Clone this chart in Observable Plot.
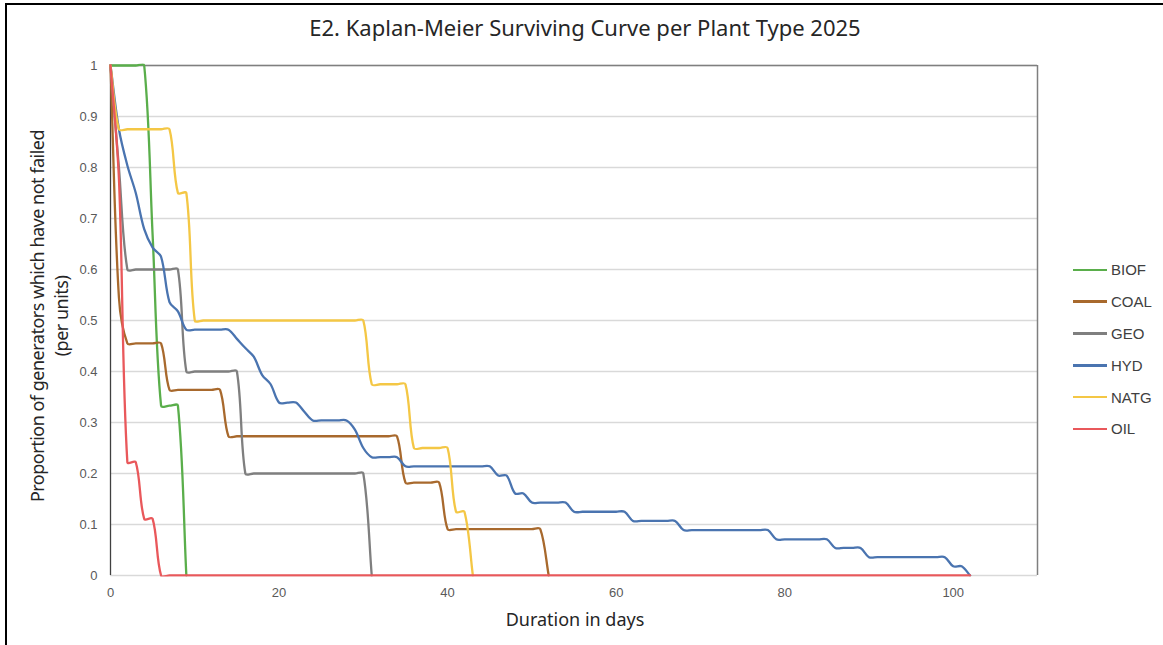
<!DOCTYPE html>
<html>
<head>
<meta charset="utf-8">
<script src="https://cdn.jsdelivr.net/npm/d3@7"></script>
<script src="https://cdn.jsdelivr.net/npm/@observablehq/plot@0.6"></script>
<style>
  body { margin: 0; background: #fff; }
  #wrap { position: relative; width: 1163px; height: 645px; overflow: hidden; background: #fff; }
  #frame { position: absolute; left: 5px; top: 3px; width: 1200px; height: 700px; border: 2px solid #000; box-sizing: border-box; pointer-events: none; }
  #chart { position: absolute; left: 0; top: 0; }
  #title { position: absolute; left: 0; top: 12px; width: 1170px; text-align: center; font: 22px "Noto Sans", sans-serif; color: #262626; white-space: nowrap; }
  #xtitle { position: absolute; left: 375px; width: 400px; top: 607px; text-align: center; font: 18px "Noto Sans", sans-serif; color: #262626; }
  #ytitle { position: absolute; left: -201px; top: 292px; width: 500px; height: 48px; line-height: 24px; text-align: center; font: 18px "Noto Sans", sans-serif; letter-spacing: -0.5px; color: #262626; transform: rotate(-90deg); transform-origin: 250px 24px; white-space: nowrap; }
  #legend { position: absolute; left: 1073px; top: 254px; font: 15px "Liberation Sans", Arial, sans-serif; color: #404040; }
  .item { display: flex; align-items: center; height: 31.8px; }
  .sw { width: 34px; height: 2.5px; margin-right: 4px; }
</style>
</head>
<body>
<div id="wrap">
  <div id="chart"></div>
  <div id="title">E2. Kaplan-Meier Surviving Curve per Plant Type 2025</div>
  <div id="xtitle">Duration in days</div>
  <div id="ytitle">Proportion of generators which have not failed<br>(per units)</div>
  <div id="legend"></div>
  <div id="frame"></div>
</div>
<script>
// Plant types and colours
const types = ["BIOF", "COAL", "GEO", "HYD", "NATG", "OIL"];
const colors = ["#5aae4b", "#a8692d", "#7f7f7f", "#4a74b0", "#f4c745", "#e9585b"];

// Survival values (day, proportion)
const biofDays = [0, 1, 3, 4, 5, 6, 7, 8, 9];
const biofSurv = [1, 1, 1, 1, 0.667, 0.333, 0.333, 0.333, 0];

const coalDays = [0, 1, 2, 3, 5, 6, 7, 8, 12, 13, 14, 15, 33, 34, 35, 36, 38, 39, 40, 41, 50, 51, 52];
const coalSurv = [1, 0.545, 0.455, 0.455, 0.455, 0.455, 0.364, 0.364, 0.364, 0.364, 0.273, 0.273, 0.273, 0.273, 0.182, 0.182, 0.182, 0.182, 0.091, 0.091, 0.091, 0.091, 0];

const geoDays = [0, 1, 2, 3, 7, 8, 9, 10, 14, 15, 16, 17, 29, 30, 31];
const geoSurv = [1, 0.8, 0.6, 0.6, 0.6, 0.6, 0.4, 0.4, 0.4, 0.4, 0.2, 0.2, 0.2, 0.2, 0];

const hydDays = [0, 1, 2, 3, 4, 5, 6, 7, 8, 9, 10, 13, 14, 15, 16, 17, 18, 19, 20, 21, 22, 23, 24, 25, 27, 28,
  29, 30, 31, 32, 33, 34, 35, 36, 44, 45, 46, 47, 48, 49, 50, 51, 53, 54, 55, 56, 60, 61, 62, 63, 66, 67, 68, 69,
  77, 78, 79, 80, 84, 85, 86, 87, 88, 89, 90, 91, 98, 99, 100, 101, 102];
const hydSurv = [1, 0.875, 0.804, 0.75, 0.679, 0.643, 0.625, 0.536, 0.518, 0.482, 0.482, 0.482, 0.482, 0.464, 0.446,
  0.429, 0.393, 0.375, 0.339, 0.339, 0.339, 0.321, 0.304, 0.304, 0.304, 0.304,
  0.286, 0.25, 0.232, 0.232, 0.232, 0.232, 0.214, 0.214, 0.214, 0.214, 0.196, 0.196, 0.161, 0.161, 0.143, 0.143,
  0.143, 0.143, 0.125, 0.125, 0.125, 0.125, 0.107, 0.107, 0.107, 0.107, 0.089, 0.089,
  0.089, 0.089, 0.071, 0.071, 0.071, 0.071, 0.054, 0.054, 0.054, 0.054, 0.036, 0.036, 0.036, 0.036, 0.018, 0.018, 0];

const natgDays = [0, 1, 2, 6, 7, 8, 9, 10, 11, 29, 30, 31, 32, 34, 35, 36, 37, 39, 40, 41, 42, 43];
const natgSurv = [1, 0.875, 0.875, 0.875, 0.875, 0.75, 0.75, 0.5, 0.5, 0.5, 0.5, 0.375, 0.375, 0.375, 0.375, 0.25, 0.25, 0.25, 0.25, 0.125, 0.125, 0];

const oilDays = [0, 1, 2, 3, 4, 5, 6, 7, 8, 101, 102];
const oilSurv = [1, 0.778, 0.222, 0.222, 0.111, 0.111, 0, 0, 0, 0, 0];

// Axis ticks
const xTicks = [0, 20, 40, 60, 80, 100];
const yTicks = [0, 0.1, 0.2, 0.3, 0.4, 0.5, 0.6, 0.7, 0.8, 0.9, 1];
const yTickLabels = ["0", "0.1", "0.2", "0.3", "0.4", "0.5", "0.6", "0.7", "0.8", "0.9", "1"];

const seriesDays = [biofDays, coalDays, geoDays, hydDays, natgDays, oilDays];
const seriesSurv = [biofSurv, coalSurv, geoSurv, hydSurv, natgSurv, oilSurv];
const rows = types.flatMap((t, i) => seriesDays[i].map((d, j) => ({type: t, day: d, surv: seriesSurv[i][j]})));

// Spreadsheet-style smoothed line: cubic Bezier with chord-length-scaled Catmull-Rom control points
function SmoothCurve(context) { this._context = context; }
SmoothCurve.prototype = {
  areaStart() { this._line = 0; },
  areaEnd() { this._line = NaN; },
  lineStart() { this._xs = []; this._ys = []; },
  point(x, y) { this._xs.push(+x); this._ys.push(+y); },
  lineEnd() {
    const X = this._xs, Y = this._ys, n = X.length, c = this._context;
    if (!n) return;
    c.moveTo(X[0], Y[0]);
    if (n === 2) { c.lineTo(X[1], Y[1]); return; }
    for (let i = 0; i < n - 1; i++) {
      const a = Math.max(i - 1, 0), b = Math.min(i + 2, n - 1);
      const d01 = Math.hypot(X[i] - X[a], Y[i] - Y[a]);
      const d12 = Math.hypot(X[i + 1] - X[i], Y[i + 1] - Y[i]);
      const d23 = Math.hypot(X[b] - X[i + 1], Y[b] - Y[i + 1]);
      const k1 = d01 + d12 > 0 ? d12 / (3 * (d01 + d12)) : 0;
      const k2 = d12 + d23 > 0 ? d12 / (3 * (d12 + d23)) : 0;
      c.bezierCurveTo(
        X[i] + k1 * (X[i + 1] - X[a]), Y[i] + k1 * (Y[i + 1] - Y[a]),
        X[i + 1] - k2 * (X[b] - X[i]), Y[i + 1] - k2 * (Y[b] - Y[i]),
        X[i + 1], Y[i + 1]);
    }
  }
};
const smooth = (context) => new SmoothCurve(context);

const chart = Plot.plot({
  width: 1163,
  height: 645,
  marginLeft: 110,
  marginRight: 126,
  marginTop: 65,
  marginBottom: 70,
  style: {fontFamily: "'Liberation Sans', Arial, sans-serif", fontSize: "13px", color: "#595959", background: "transparent", overflow: "visible"},
  x: {domain: [0, 110], ticks: xTicks, tickSize: 0, tickPadding: 12, label: null},
  y: {domain: [0, 1], ticks: yTicks, tickSize: 0, tickPadding: 13, label: null,
      tickFormat: (d) => yTickLabels[yTicks.indexOf(d)]},
  color: {domain: types, range: colors},
  marks: [
    Plot.ruleY(yTicks, {stroke: "#d9d9d9", strokeWidth: 1.3}),
    Plot.ruleY([1], {stroke: "#7f7f7f", strokeWidth: 1.5}),
    Plot.ruleX([110], {stroke: "#7f7f7f", strokeWidth: 1.5}),
    Plot.ruleX([0], {stroke: "#404040", strokeWidth: 1.3}),
    Plot.line(rows, {x: "day", y: "surv", z: "type", stroke: "type", curve: smooth,
      strokeWidth: 2.3, strokeLinejoin: "round", clip: true})
  ]
});
// enlarge the clip rectangle slightly so the strokes on the frame edges are not cut in half
chart.querySelectorAll("clipPath rect").forEach((r) => {
  const x = +r.getAttribute("x"), y = +r.getAttribute("y");
  const w = +r.getAttribute("width"), h = +r.getAttribute("height");
  r.setAttribute("x", x - 2); r.setAttribute("y", y - 1.5);
  r.setAttribute("width", w + 4); r.setAttribute("height", h + 3);
});
document.getElementById("chart").appendChild(chart);

const legend = document.getElementById("legend");
types.forEach((t, i) => {
  const item = document.createElement("div");
  item.className = "item";
  const sw = document.createElement("div");
  sw.className = "sw";
  sw.style.background = colors[i];
  const lab = document.createElement("span");
  lab.textContent = t;
  item.appendChild(sw);
  item.appendChild(lab);
  legend.appendChild(item);
});
</script>
</body>
</html>
